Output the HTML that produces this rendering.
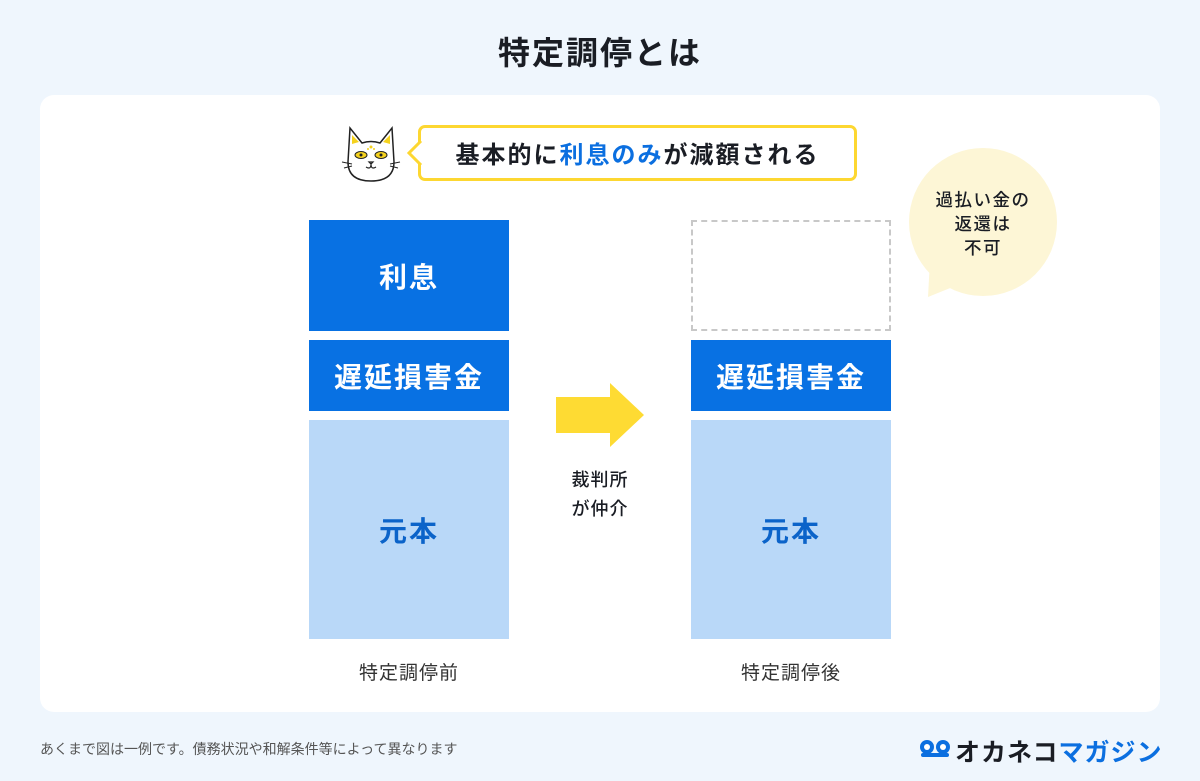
<!DOCTYPE html>
<html><head><meta charset="utf-8"><style>
*{margin:0;padding:0;box-sizing:border-box}
body{width:1200px;height:781px;background:#eff6fd;position:relative;overflow:hidden;font-family:"Liberation Sans","Noto Sans CJK JP",sans-serif;color:#1a1d24}
.a{position:absolute}
.t{text-align:center}
.card{left:40px;top:95px;width:1120px;height:617px;background:#fff;border-radius:14px}
.box{display:flex;align-items:center;justify-content:center;font-weight:bold;font-size:28px;letter-spacing:2px}
.dk{background:#0871e3;color:#fff}
.lt{background:#b9d8f8;color:#0b63c9}
.lab{font-size:19px;color:#333;letter-spacing:1px}
</style></head><body>
<div class="a t" style="left:0;top:28px;width:1200px;font-size:32px;font-weight:bold;letter-spacing:2px">特定調停とは</div>
<div class="a card"></div>
<svg class="a" style="left:340px;top:122px" width="62" height="62" viewBox="0 0 62 62">
<path d="M8 40 L10 6 L22 21 Q31 18 40 21 L52 6 L54 40 Q54 59 31 59 Q8 59 8 40Z" fill="#fff" stroke="#222" stroke-width="1.5"/>
<path d="M12 13 L12 22 L19 20Z M50 13 L50 22 L43 20Z" fill="#f5d21e"/>
<ellipse cx="21" cy="33" rx="6" ry="3.5" fill="#f5d21e" stroke="#222"/><ellipse cx="41" cy="33" rx="6" ry="3.5" fill="#f5d21e" stroke="#222"/>
<circle cx="21" cy="33" r="1.5" fill="#222"/><circle cx="41" cy="33" r="1.5" fill="#222"/>
<circle cx="31" cy="25" r="1.5" fill="#f5d21e"/><circle cx="28" cy="27" r="1" fill="#f5d21e"/><circle cx="34" cy="27" r="1" fill="#f5d21e"/>
<path d="M29 40 L33 40 L31 42Z M26 45 Q31 48 31 42 Q31 48 36 45" fill="none" stroke="#222" stroke-width="1.2"/>
<path d="M2 40 L12 42 M4 46 L12 44 M60 40 L50 42 M58 46 L50 44" stroke="#222" stroke-width="1"/>
</svg>
<div class="a" style="left:418px;top:125px;width:439px;height:56px;border:3px solid #fdd731;border-radius:7px;background:#fff"></div>
<svg class="a" style="left:407px;top:140px" width="16" height="26"><path d="M14 1 L2 13 L14 25" fill="#fff" stroke="#fdd731" stroke-width="3"/></svg>
<div class="a t" style="left:418px;top:135px;width:439px;font-size:24px;font-weight:bold;letter-spacing:2px">基本的に<span style="color:#0b6fe0">利息のみ</span>が減額される</div>
<svg class="a" style="left:900px;top:140px" width="170" height="170"><circle cx="83" cy="82" r="74" fill="#fdf6d6"/><path d="M30 120 L28 157 L70 140Z" fill="#fdf6d6"/></svg>
<div class="a t" style="left:908px;top:188px;width:150px;font-size:17.5px;line-height:24px;letter-spacing:1.5px;font-weight:500">過払い金の<br>返還は<br>不可</div>
<div class="a box dk" style="left:309px;top:220px;width:200px;height:111px">利息</div>
<div class="a box dk" style="left:309px;top:340px;width:200px;height:71px">遅延損害金</div>
<div class="a box lt" style="left:309px;top:420px;width:200px;height:219px">元本</div>
<div class="a t lab" style="left:309px;top:658px;width:200px">特定調停前</div>
<div class="a" style="left:691px;top:220px;width:200px;height:111px;border:2px dashed #c8c8c8"></div>
<div class="a box dk" style="left:691px;top:340px;width:200px;height:71px">遅延損害金</div>
<div class="a box lt" style="left:691px;top:420px;width:200px;height:219px">元本</div>
<div class="a t lab" style="left:691px;top:658px;width:200px">特定調停後</div>
<svg class="a" style="left:556px;top:383px" width="90" height="64"><path d="M0 14 L54 14 L54 0 L88 32 L54 64 L54 50 L0 50Z" fill="#fedb33"/></svg>
<div class="a t" style="left:550px;top:466px;width:100px;font-size:18px;line-height:29px;letter-spacing:1px;font-weight:500">裁判所<br>が仲介</div>
<div class="a" style="left:40px;top:739px;font-size:14px;color:#555">あくまで図は一例です。債務状況や和解条件等によって異なります</div>
<svg class="a" style="left:919px;top:737px" width="32" height="24"><circle cx="8" cy="10" r="7" fill="#0b6fe0"/><circle cx="24" cy="10" r="7" fill="#0b6fe0"/><circle cx="8" cy="10" r="3" fill="#fff"/><circle cx="24" cy="10" r="3" fill="#fff"/><rect x="2" y="16" width="28" height="4" rx="2" fill="#0b6fe0"/></svg>
<div class="a" style="left:955px;top:733px;font-size:25px;font-weight:bold;letter-spacing:1px;white-space:nowrap">オカネコ<span style="color:#0b6fe0">マガジン</span></div>
</body></html>
